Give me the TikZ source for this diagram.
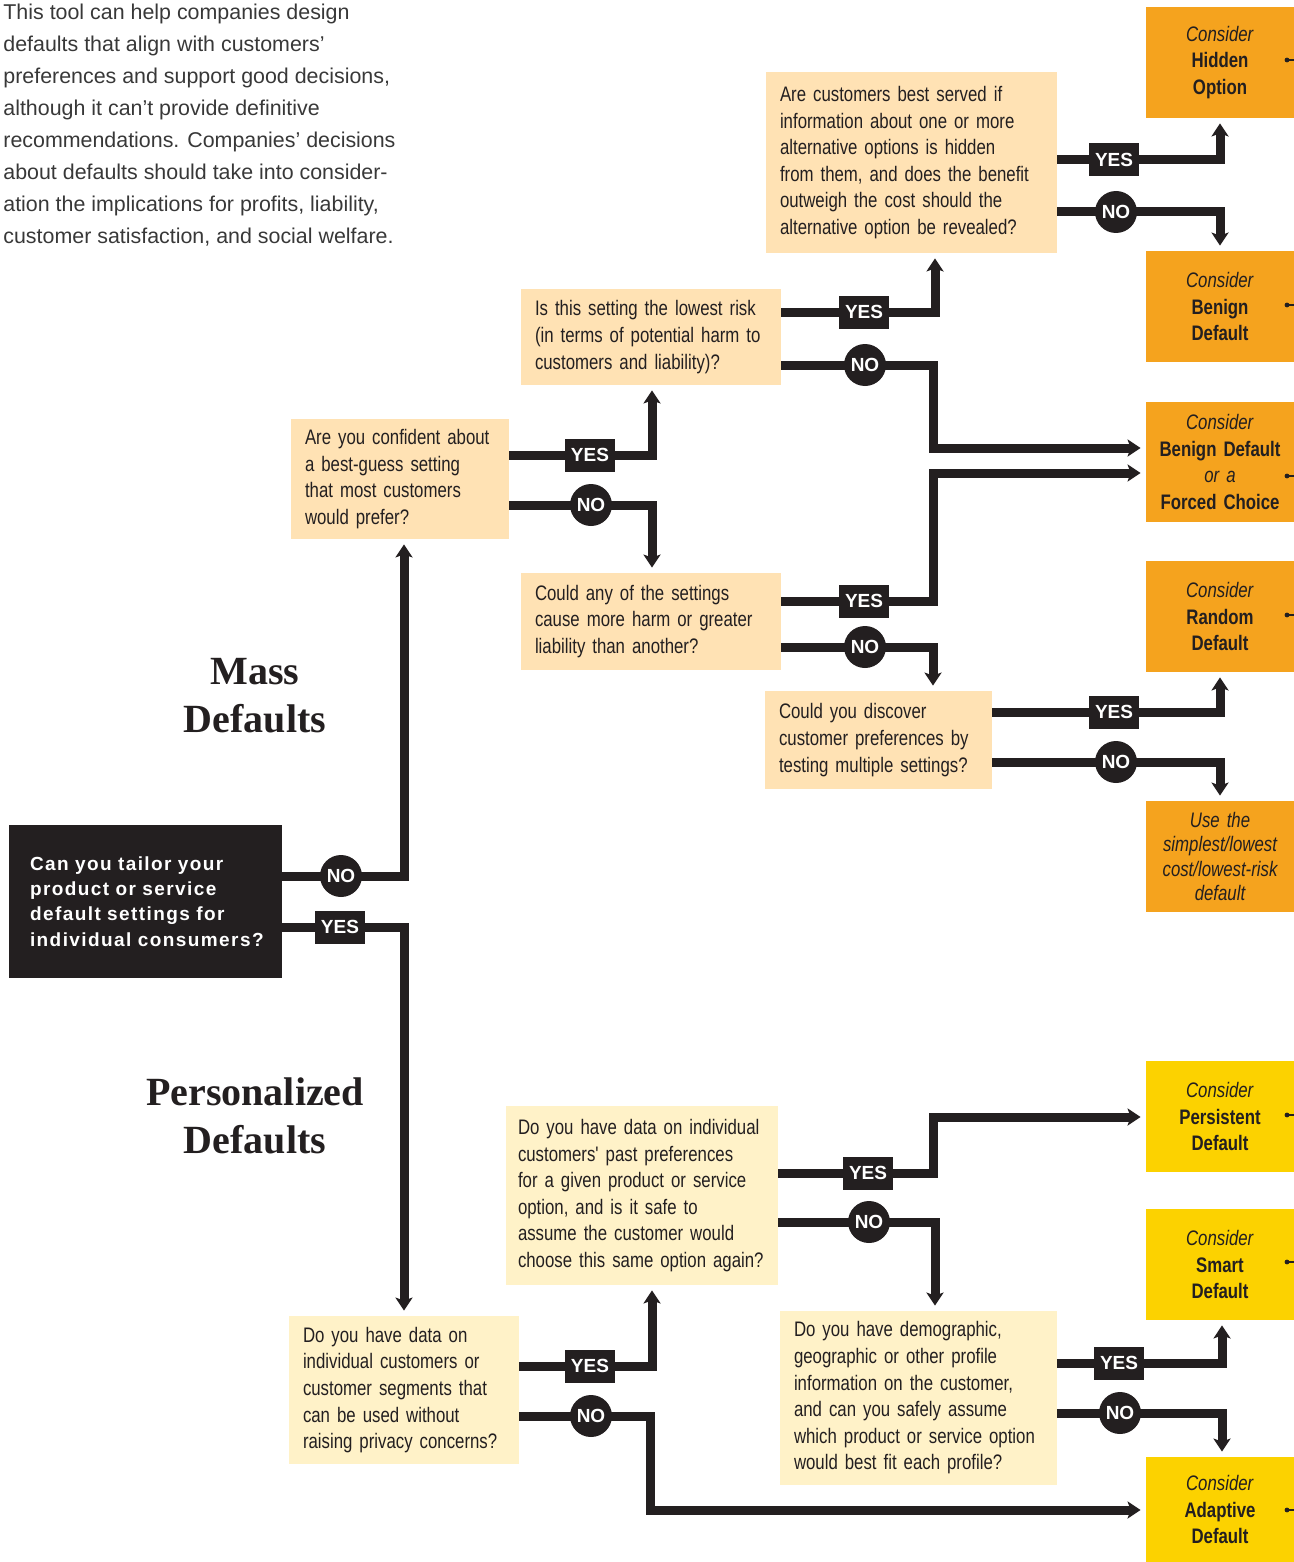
\documentclass[tikz,border=0pt]{standalone}
\usepackage{fontspec}
\setmainfont{Liberation Sans}
\newfontfamily\condf[FakeStretch=0.8,WordSpace=0.85]{Liberation Sans}
\newfontfamily\rootf[LetterSpace=7.5]{Liberation Sans}
\newfontfamily\titlef{Liberation Serif}
\usetikzlibrary{arrows.meta}
\definecolor{ink}{RGB}{35,31,32}
\definecolor{peach}{RGB}{255,226,180}
\definecolor{cream}{RGB}{255,242,200}
\definecolor{amber}{RGB}{245,163,30}
\definecolor{gold}{RGB}{252,210,0}
\tikzset{
    qbox/.style={fill=peach,inner xsep=7pt,inner ysep=0pt,align=left,text=ink,
        font=\condf\fontsize{10.5}{13.3}\selectfont},
    pbox/.style={qbox,fill=cream},
    rbox/.style={fill=amber,text width=70pt,minimum height=55.5pt,inner xsep=2pt,inner ysep=0pt,
        align=center,text=ink,font=\condf\fontsize{10.5}{13.3}\selectfont},
    ybox/.style={rbox,fill=gold},
    flow/.style={ink,line width=4.5pt,shorten >=2.5pt,
        -{Stealth[length=6.5pt,width=8.5pt,inset=1.5pt]}},
    yes/.style={fill=ink,text=white,minimum width=25pt,minimum height=16.5pt,inner sep=0pt,
        font=\fontsize{9.5}{10}\selectfont\bfseries},
    no/.style={circle,fill=ink,text=white,minimum size=21pt,inner sep=0pt,
        font=\fontsize{9.5}{10}\selectfont\bfseries},
    title/.style={align=center,text=ink,font=\titlef\bfseries\fontsize{20}{24}\selectfont}
}
\newcommand{\res}[2]{\textit{Consider}\\\textbf{#1}\\\textbf{#2}}

\begin{document}
\begin{tikzpicture}[x=0.5pt,y=-0.5pt]
        \useasboundingbox (0,0) rectangle (1294,1562);

        % intro text
        \node [anchor=north west,inner sep=0pt,align=left,text=black!78,
            font=\fontsize{10.7}{16}\selectfont] (intro) at (3,4)
            {This tool can help companies design\\
             defaults that align with customers'\\
             preferences and support good decisions,\\
             although it can't provide definitive\\
             recommendations. Companies' decisions\\
             about defaults should take into consider-\\
             ation the implications for profits, liability,\\
             customer satisfaction, and social welfare.};

        \node [title] (mass) at (255,696) {Mass\\Defaults};
        \node [title] (pers) at (255,1116) {Personalized\\Defaults};

        % root question
        \node [fill=ink,text=white,align=left,text width=115.5pt,minimum height=76.5pt,
            inner xsep=10.5pt,inner ysep=0pt,font=\rootf\bfseries\fontsize{9.5}{12.65}\selectfont]
            (root) at (145.5,901.5)
            {Can you tailor your\\product or service\\default settings for\\individual consumers?};

        % questions
        \node [qbox,text width=95pt,minimum height=60pt] (q1) at (400,479)
            {Are you confident about\\a best-guess setting\\that most customers\\would prefer?};
        \node [qbox,text width=116pt,minimum height=48pt] (q2) at (651,337)
            {Is this setting the lowest risk\\(in terms of potential harm to\\customers and liability)?};
        \node [qbox,text width=131.5pt,minimum height=90.5pt] (q3) at (911.5,162.5)
            {Are customers best served if\\information about one or more\\alternative options is hidden\\from them, and does the benefit\\outweigh the cost should the\\alternative option be revealed?};
        \node [qbox,text width=116pt,minimum height=48.5pt] (q4) at (651,621.5)
            {Could any of the settings\\cause more harm or greater\\liability than another?};
        \node [qbox,text width=99.5pt,minimum height=49pt] (q5) at (878.5,740)
            {Could you discover\\customer preferences by\\testing multiple settings?};
        \node [pbox,inner xsep=6pt,text width=124pt,minimum height=89.5pt] (q6) at (642,1195.5)
            {Do you have data on individual\\customers' past preferences\\for a given product or service\\option, and is it safe to\\assume the customer would\\choose this same option again?};
        \node [pbox,text width=101pt,minimum height=74pt] (q7) at (404,1390)
            {Do you have data on\\individual customers or\\customer segments that\\can be used without\\raising privacy concerns?};
        \node [pbox,text width=124.5pt,minimum height=87pt] (q8) at (918.5,1398)
            {Do you have demographic,\\geographic or other profile\\information on the customer,\\and can you safely assume\\which product or service option\\would best fit each profile?};

        % results
        \node [rbox] (r1) at (1220,62.5) {\res{Hidden}{Option}};
        \node [rbox] (r2) at (1220,306.5) {\res{Benign}{Default}};
        \node [rbox,minimum height=60pt] (r3) at (1220,462)
            {\textit{Consider}\\\textbf{Benign Default}\\\textit{or a}\\\textbf{Forced Choice}};
        \node [rbox] (r4) at (1220,616.5) {\res{Random}{Default}};
        \node [rbox,font=\condf\itshape\fontsize{10.5}{12.2}\selectfont] (r5) at (1220,856.5)
            {Use the\\simplest/lowest\\cost/lowest-risk\\default};
        \node [ybox] (r6) at (1220,1116.5) {\res{Persistent}{Default}};
        \node [ybox] (r7) at (1220,1264.5) {\res{Smart}{Default}};
        \node [ybox,minimum height=52.5pt] (r8) at (1220,1509.5) {\res{Adaptive}{Default}};

        % small leaders at the right edge
        \foreach \r/\y in {r1/60,r2/305,r3/476,r4/615,r6/1115,r7/1262,r8/1510} {
            \fill [ink] (1287,\y) circle (2.4);
            \draw [ink,line width=0.6pt] (1287,\y) -- (\r.east |- 0,\y);
        }

        % corner points
        \coordinate (a1) at (404,876);
        \coordinate (a2) at (404,927);
        \coordinate (b1) at (652,455);
        \coordinate (b2) at (652,505);
        \coordinate (c1) at (935,312);
        \coordinate (c2) at (933,365);
        \coordinate (c3) at (933,448);
        \coordinate (d1) at (1220,160);
        \coordinate (d2) at (1220,212);
        \coordinate (e1) at (933,601);
        \coordinate (e2) at (933,473);
        \coordinate (e3) at (933,647);
        \coordinate (f1) at (1220,712);
        \coordinate (f2) at (1220,762);
        \coordinate (g1) at (652,1366);
        \coordinate (g2) at (650,1416);
        \coordinate (g3) at (650,1510);
        \coordinate (h1) at (933,1173);
        \coordinate (h2) at (933,1117);
        \coordinate (h3) at (935,1222);
        \coordinate (k1) at (1222,1363);
        \coordinate (k2) at (1222,1413);

        % connectors
        \draw [flow] (root.east |- a1) -- (a1) -- (a1 |- q1.south);
        \draw [flow] (root.east |- a2) -- (a2) -- (a2 |- q7.north);
        \draw [flow] (q1.east |- b1) -- (b1) -- (b1 |- q2.south);
        \draw [flow] (q1.east |- b2) -- (b2) -- (b2 |- q4.north);
        \draw [flow] (q2.east |- c1) -- (c1) -- (c1 |- q3.south);
        \draw [flow] (q2.east |- c2) -- (c2) -- (c3) -- (c3 -| r3.west);
        \draw [flow] (q3.east |- d1) -- (d1) -- (d1 |- r1.south);
        \draw [flow] (q3.east |- d2) -- (d2) -- (d2 |- r2.north);
        \draw [flow] (q4.east |- e1) -- (e1) -- (e2) -- (e2 -| r3.west);
        \draw [flow] (q4.east |- e3) -- (e3) -- (e3 |- q5.north);
        \draw [flow] (q5.east |- f1) -- (f1) -- (f1 |- r4.south);
        \draw [flow] (q5.east |- f2) -- (f2) -- (f2 |- r5.north);
        \draw [flow] (q7.east |- g1) -- (g1) -- (g1 |- q6.south);
        \draw [flow] (q7.east |- g2) -- (g2) -- (g3) -- (g3 -| r8.west);
        \draw [flow] (q6.east |- h1) -- (h1) -- (h2) -- (h2 -| r6.west);
        \draw [flow] (q6.east |- h3) -- (h3) -- (h3 |- q8.north);
        \draw [flow] (q8.east |- k1) -- (k1) -- (k1 |- r7.south);
        \draw [flow] (q8.east |- k2) -- (k2) -- (k2 |- r8.north);

        % answer tags
        \node [no] (n0) at (341,876) {NO};
        \node [yes] (y0) at (340,927) {YES};
        \node [yes] (y1) at (590,455) {YES};
        \node [no] (n1) at (591,505) {NO};
        \node [yes] (y2) at (864,312) {YES};
        \node [no] (n2) at (865,365) {NO};
        \node [yes] (y3) at (1114,160) {YES};
        \node [no] (n3) at (1116,212) {NO};
        \node [yes] (y4) at (864,601) {YES};
        \node [no] (n4) at (865,647) {NO};
        \node [yes] (y5) at (1114,712) {YES};
        \node [no] (n5) at (1116,762) {NO};
        \node [yes] (y7) at (590,1366) {YES};
        \node [no] (n7) at (591,1416) {NO};
        \node [yes] (y6) at (868,1173) {YES};
        \node [no] (n6) at (869,1222) {NO};
        \node [yes] (y8) at (1119,1363) {YES};
        \node [no] (n8) at (1120,1413) {NO};
\end{tikzpicture}
\end{document}
